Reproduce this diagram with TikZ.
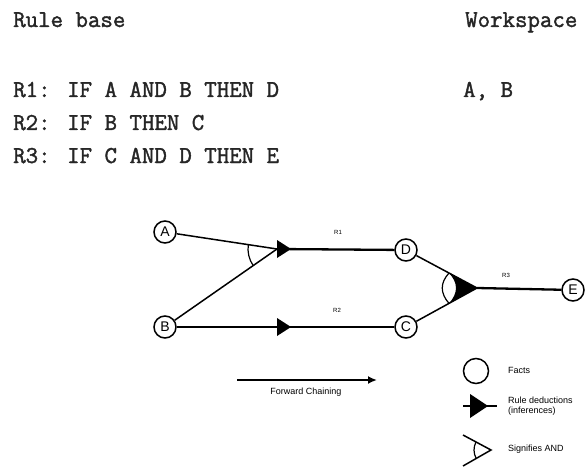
\documentclass[tikz,border=0pt]{standalone}
\usepackage{fontspec}
\setmainfont{Liberation Sans}
\newfontfamily\monob{Latin Modern Mono}[FakeBold=1.6]
\usetikzlibrary{arrows.meta}
\begin{document}
\begin{tikzpicture}[x=1pt,y=-1pt,
  fact/.style={circle,draw,line width=1.5pt,minimum size=22pt,inner sep=0pt,font=\fontsize{14}{14}\selectfont},
  code/.style={anchor=base west,inner sep=0pt,font=\monob\fontsize{24.2}{24}\selectfont,text=black!85},
  rlabel/.style={font=\fontsize{6}{6}\selectfont,inner sep=0pt},
  legtext/.style={anchor=west,inner sep=0pt,font=\fontsize{9}{10.5}\selectfont,align=left},
  link/.style={line width=1.5pt},
  strong/.style={line width=2.3pt},
  andarc/.style={line width=1.2pt}]
\useasboundingbox (0,0) rectangle (586,468);

% top text
\node[code] (rb) at (13,27) {Rule base};
\node[code] (ws) at (465,27) {Workspace};
\node[code] (r1) at (13,97) {R1: IF A AND B THEN D};
\node[code] (r2) at (13,130) {R2: IF B THEN C};
\node[code] (r3) at (13,163) {R3: IF C AND D THEN E};
\node[code] (wsab) at (463,97) {A, B};

% fact nodes
\node[fact] (A) at (165,232) {A};
\node[fact] (B) at (165,327) {B};
\node[fact] (D) at (406,250) {D};
\node[fact] (C) at (406,327) {C};
\node[fact] (E) at (573,290) {E};

% R1
\coordinate (P1) at (277,249);
\draw[link] (A) -- (P1);
\draw[link] (B) -- (P1);
\draw[strong] (P1) -- (D);
\fill (P1) ++(0,-9) -- ++(14,9) -- ++(-14,9) -- cycle;
\draw[andarc] (P1) ++(145:29) arc[start angle=145,end angle=189,radius=29];
\node[rlabel] (l1) at (338,232) {R1};

% R2
\coordinate (P2) at (277,327);
\draw[strong] (B) -- (C);
\fill (P2) ++(0,-9) -- ++(14,9) -- ++(-14,9) -- cycle;
\node[rlabel] (l2) at (337,310) {R2};

% R3
\coordinate (T3) at (477,288);
\draw[link] (D) -- (T3);
\draw[link] (C) -- (T3);
\draw[strong] (T3) -- (E);
\fill (449,273) -- (T3) -- (449,303.4) .. controls (458.3,293) and (458.3,283) .. (449,273) -- cycle;
\draw[andarc] (449,273) .. controls (440,283) and (440,293) .. (449,303.4);
\node[rlabel] (l3) at (506,275) {R3};

% legend: forward chaining
\coordinate (fc0) at (237,380);
\coordinate (fc1) at (377,380);
\draw[line width=2pt,-{Latex[length=9pt,width=8pt]}] (fc0) -- (fc1);
\node[inner sep=0pt,font=\fontsize{9}{10.5}\selectfont] (fcl) at (306,392) {Forward Chaining};

% legend: facts
\node[fact,minimum size=25pt] (factsym) at (476,371) {};
\node[legtext] (factl) at (508,370) {Facts};

% legend: rule deductions
\coordinate (rd0) at (463,406);
\coordinate (rd1) at (497,406);
\draw[line width=1.8pt] (rd0) -- (rd1);
\fill (470,394) -- (488,406) -- (470,418) -- cycle;
\node[legtext] (rdl) at (508,406) {Rule deductions\\(inferences)};

% legend: AND
\coordinate (andapex) at (491,450);
\coordinate (and0) at (463,435);
\coordinate (and1) at (463,466);
\draw[link] (and0) -- (andapex) -- (and1);
\draw[andarc] (andapex) ++(150:17) arc[start angle=150,end angle=208,radius=17];
\node[legtext] (andl) at (508,449) {Signifies AND};
\end{tikzpicture}
\end{document}
